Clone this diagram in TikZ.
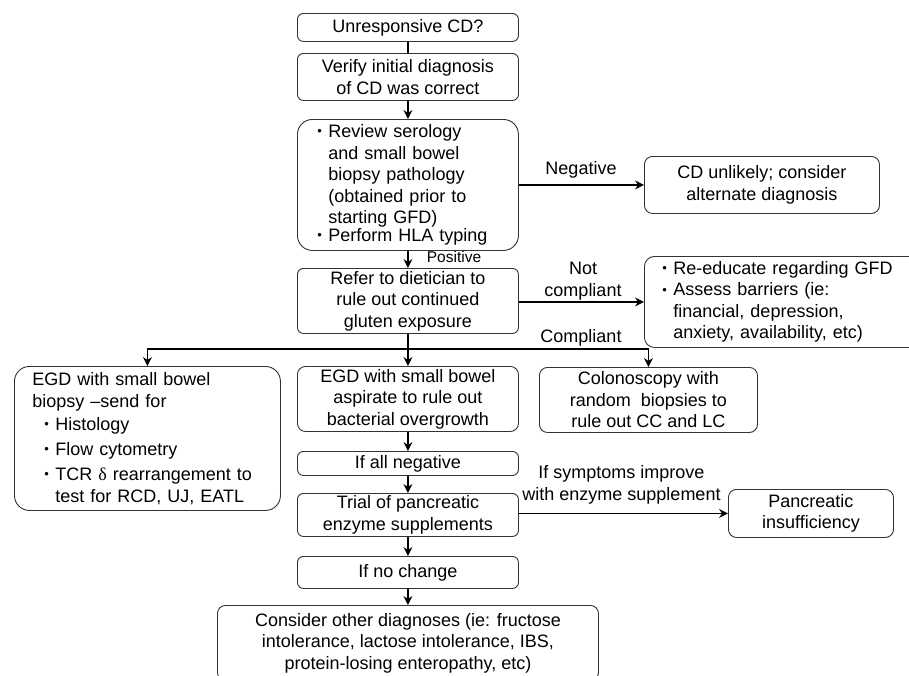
\documentclass[tikz,border=0pt]{standalone}
\usepackage{fontspec}
\setmainfont{Liberation Sans}
\newfontfamily\grserif{Liberation Serif}
\usetikzlibrary{arrows.meta}
\newcommand{\mainfs}{\fontsize{18pt}{21.5pt}\selectfont}
\newcommand{\smallfs}{\fontsize{15.5pt}{18pt}\selectfont}
\newcommand{\bx}[1]{\makebox[11pt][l]{\raisebox{1.7pt}{\fontsize{13pt}{13pt}\selectfont\textbullet}}#1}
\newcommand{\ind}{\hspace*{11pt}}
\begin{document}
\begin{tikzpicture}[x=1pt,y=-1pt,
  box/.style={draw=black!80, line width=0.9pt, rounded corners=6pt, inner sep=0pt, align=center, anchor=north west, font=\mainfs},
  conn/.style={line width=1.3pt, -{Stealth[length=9pt,width=9pt,inset=3pt]}},
  plainline/.style={line width=1.3pt},
  lbl/.style={font=\mainfs, inner sep=0pt, align=center},
  slbl/.style={font=\smallfs, inner sep=0pt}]
\clip (0,0) rectangle (909,675);
\fill[white] (0,0) rectangle (909,675);

\node[box, minimum width=221pt, minimum height=28pt] (b1) at (297,13) {Unresponsive CD?};
\node[box, minimum width=221pt, minimum height=47pt] (b2) at (297,53) {Verify initial diagnosis\\of CD was correct};
\node[box, rounded corners=15pt, align=left, text width=181pt, inner xsep=20pt, minimum height=131pt] (b3) at (297,119)
  {\bx{Review serology}\\ \ind and small bowel\\ \ind biopsy pathology\\ \ind (obtained prior to\\ \ind starting GFD)\\[-3.5pt] \bx{Perform HLA typing}};
\node[box, minimum width=221pt, minimum height=65pt] (b4) at (297,268) {Refer to dietician to\\rule out continued\\gluten exposure};
\node[box, rounded corners=8pt, minimum width=235pt, minimum height=57pt] (cd) at (644,156) {CD unlikely; consider\\alternate diagnosis};
\node[box, rounded corners=10pt, align=left, text width=240pt, inner xsep=18pt, minimum height=91pt] (re) at (644,256)
  {\bx{Re-educate regarding GFD}\\ \bx{Assess barriers (ie:}\\ \ind financial, depression,\\ \ind anxiety, availability, etc)};
\node[box, rounded corners=15pt, align=left, text width=230pt, inner xsep=18pt, minimum height=144pt] (lb) at (14,366)
  {EGD with small bowel\\ biopsy –send for\\[2pt] \hspace*{12pt}\bx{Histology}\\[3.5pt] \hspace*{12pt}\bx{Flow cytometry}\\[3.5pt] \hspace*{12pt}\bx{TCR {\grserif δ} rearrangement to}\\ \hspace*{23pt}test for RCD, UJ, EATL};
\node[box, rounded corners=8pt, minimum width=221pt, minimum height=65pt] (mb) at (297,366) {EGD with small bowel\\aspirate to rule out\\bacterial overgrowth};
\node[box, rounded corners=8pt, minimum width=218pt, minimum height=65pt] (cb) at (539,367) {Colonoscopy with\\random \ biopsies to\\rule out CC and LC};
\node[box, minimum width=221pt, minimum height=24pt] (an) at (297,451) {If all negative};
\node[box, minimum width=221pt, minimum height=43pt] (tr) at (297,493) {Trial of pancreatic\\enzyme supplements};
\node[box, rounded corners=8pt, minimum width=165pt, minimum height=48pt] (pi) at (728,489) {Pancreatic\\insufficiency};
\node[box, minimum width=221pt, minimum height=32pt] (nc) at (297,556) {If no change};
\node[box, rounded corners=8pt, minimum width=381pt, minimum height=75pt] (co) at (217,605) {Consider other diagnoses (ie: fructose\\intolerance, lactose intolerance, IBS,\\protein-losing enteropathy, etc)};

\draw[plainline] (b1) -- (b2);
\draw[conn] (b2) -- (b3);
\draw[conn] (b3) -- (b4);
\node[slbl] (lpos) at (454,257) {Positive};
\draw[conn] (b3.east) -- (b3.east -| cd.west);
\node[lbl] (lneg) at (581,170) {Negative};
\draw[conn] (b4.east |- re.west) -- (re.west);
\node[lbl] (lnc) at (583,281) {Not\\compliant};
\coordinate (j) at (407.5,349);
\draw[conn] (b4) -- (mb);
\draw[conn] (j) -| (lb.north);
\draw[conn] (j) -| (cb.north);
\node[lbl] (lcomp) at (581,338) {Compliant};
\draw[conn] (mb) -- (an);
\draw[conn] (an) -- (tr);
\draw[conn] (tr) -- (nc);
\draw[conn] (nc) -- (co);
\draw[conn] (tr.east |- pi.west) -- (pi.west);
\node[lbl] (lsym) at (621.5,485) {If symptoms improve\\with enzyme supplement};
\end{tikzpicture}
\end{document}
